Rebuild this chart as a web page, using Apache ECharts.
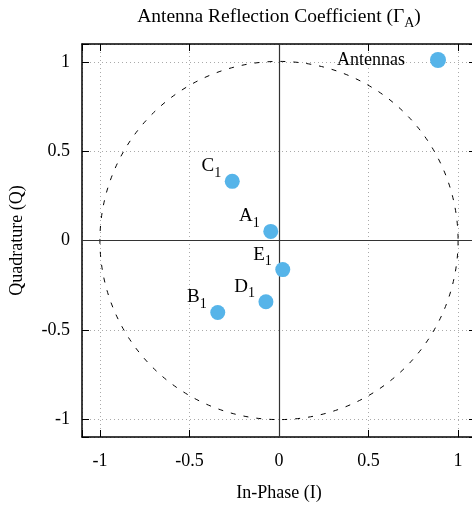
<!DOCTYPE html>
<html>
<head>
<meta charset="utf-8">
<script src="https://cdn.jsdelivr.net/npm/echarts@6/dist/echarts.min.js"></script>
<style>html,body{margin:0;padding:0;background:#fff}#c{width:472px;height:506px}</style>
</head>
<body>
<div id="c"></div>
<script>
const pointNames = ['A', 'B', 'C', 'D', 'E'];
const pointI = [-0.046, -0.342, -0.261, -0.073, 0.021];
const pointQ = [0.051, -0.403, 0.331, -0.343, -0.163];
const xTicks = [-1, -0.5, 0, 0.5, 1];
const yTicks = [-1, -0.5, 0, 0.5, 1];
const unitCircle = [[0, 0, 1]];

const FONT = 'Liberation Serif';
const chart = echarts.init(document.getElementById('c'));
const tickFmt = (ticks) => (v) => {
  const t = ticks.find(k => Math.abs(k - v) < 1e-9);
  return t === undefined ? '' : String(t);
};
const baseX = {
  type: 'value', min: -1.1, max: 1.1, splitNumber: 5,
  axisLine: { onZero: false, lineStyle: { color: '#000', width: 1.5 } },
  axisTick: { inside: true, length: 7, lineStyle: { color: '#000', width: 1 } }
};
chart.setOption({
  animation: false,
  textStyle: { fontFamily: FONT },
  title: {
    text: '{a|Antenna Reflection Coefficient (Γ}{s|A}{a|)}',
    left: 274, top: 2, textAlign: 'center',
    textStyle: {
      fontWeight: 'normal',
      rich: {
        a: { fontFamily: FONT, fontSize: 19.5, fontWeight: 'normal', color: '#000', verticalAlign: 'top', lineHeight: 22 },
        s: { fontFamily: FONT, fontSize: 14, fontWeight: 'normal', color: '#000', verticalAlign: 'top', padding: [9, 0, 0, 0] }
      }
    }
  },
  legend: {
    data: ['Antennas'], right: 26, top: 51, padding: 0, align: 'right',
    itemWidth: 56, itemHeight: 16, icon: 'circle',
    textStyle: { fontFamily: FONT, fontSize: 18, color: '#000' }
  },
  grid: { left: 82, top: 44, width: 394, height: 393, containLabel: false, outerBoundsMode: 'none' },
  xAxis: [
    Object.assign({}, baseX, {
      position: 'bottom',
      name: 'In-Phase (I)', nameLocation: 'middle', nameGap: 47,
      nameTextStyle: { fontFamily: FONT, fontSize: 18, color: '#000' },
      axisLabel: { formatter: tickFmt(xTicks), margin: 15, fontFamily: FONT, fontSize: 18, color: '#000' },
      splitLine: { show: true, lineStyle: { color: '#aaa', type: [1, 3], width: 1 } }
    }),
    Object.assign({}, baseX, {
      position: 'top', axisLabel: { show: false }, splitLine: { show: false }
    })
  ],
  yAxis: [
    Object.assign({}, baseX, {
      position: 'left',
      name: 'Quadrature (Q)', nameLocation: 'middle', nameGap: 56, nameRotate: 90,
      nameTextStyle: { fontFamily: FONT, fontSize: 18, color: '#000' },
      axisLabel: { formatter: tickFmt(yTicks), margin: 12, fontFamily: FONT, fontSize: 18, color: '#000' },
      splitLine: { show: true, lineStyle: { color: '#aaa', type: [1, 3], width: 1 } }
    }),
    Object.assign({}, baseX, {
      position: 'right', axisLabel: { show: false }, splitLine: { show: false }
    })
  ],
  series: [
    {
      type: 'custom', name: 'circle', silent: true, z: 3,
      data: unitCircle,
      renderItem: (params, api) => {
        const c = api.coord([api.value(0), api.value(1)]);
        const r = api.size([api.value(2), 0])[0];
        return { type: 'circle', shape: { cx: c[0], cy: c[1], r: r },
          style: { fill: 'none', stroke: '#000', lineWidth: 1, lineDash: [5, 8] } };
      },
      markLine: {
        silent: true, symbol: 'none', animation: false,
        label: { show: false },
        lineStyle: { color: '#333', type: 'solid', width: 1.2 },
        data: [{ xAxis: 0 }, { yAxis: 0 }]
      }
    },
    {
      type: 'scatter', name: 'Antennas', z: 5,
      symbolSize: 15,
      itemStyle: { color: '#56B4E9', opacity: 1 },
      data: pointNames.map((n, i) => ({ name: n, value: [pointI[i], pointQ[i]] })),
      label: {
        show: true, position: [-3.5, 6], align: 'right', verticalAlign: 'bottom',
        formatter: (p) => '{n|' + p.name + '}{s|1}',
        rich: {
          n: { fontFamily: FONT, fontSize: 19, color: '#000', verticalAlign: 'top', lineHeight: 20 },
          s: { fontFamily: FONT, fontSize: 14, color: '#000', verticalAlign: 'top', padding: [9, 0, 0, 0] }
        }
      }
    }
  ]
});
</script>
</body>
</html>
